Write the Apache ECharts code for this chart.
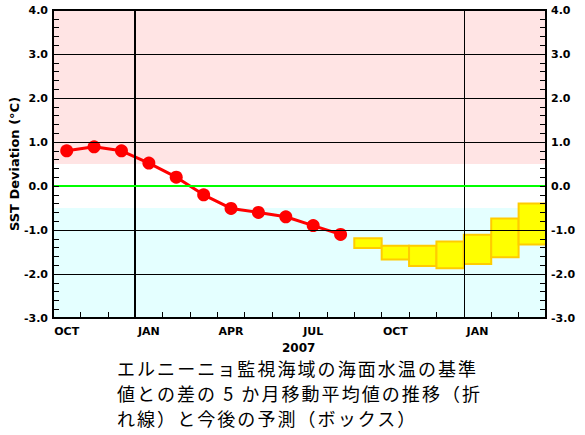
<!DOCTYPE html>
<html>
<head>
<meta charset="utf-8">
<script src="https://cdn.jsdelivr.net/npm/echarts@6/dist/echarts.min.js"></script>
<style>html,body{margin:0;padding:0;background:#fff}#c{width:585px;height:435px}</style>
</head>
<body>
<div id="c"></div>
<script>
var months = ['OCT','NOV','DEC','JAN','FEB','MAR','APR','MAY','JUN','JUL','AUG','SEP','OCT','NOV','DEC','JAN','FEB','MAR'];
var observed = [0.80, 0.89, 0.80, 0.52, 0.20, -0.20, -0.51, -0.60, -0.70, -0.90, -1.10];
var forecastIdx = [11, 12, 13, 14, 15, 16, 17];
var forecastHigh = [-1.19, -1.36, -1.36, -1.26, -1.11, -0.74, -0.40];
var forecastLow = [-1.41, -1.67, -1.82, -1.87, -1.77, -1.62, -1.33];
var yTicks = [-3, -2, -1, 0, 1, 2, 3, 4];
var yearLabel = '2007';
var caption = ['エルニーニョ監視海域の海面水温の基準', '値との差の 5 か月移動平均値の推移（折', 'れ線）と今後の予測（ボックス）'];

var boxData = forecastIdx.map(function (m, i) { return [m, forecastHigh[i], forecastLow[i]]; });
var gridLines = yTicks.slice(1, -1).filter(function (v) { return v !== 0; }).map(function (v) {
  return { yAxis: v, lineStyle: { color: '#000', width: 1, type: 'solid' } };
});

var chart = echarts.init(document.getElementById('c'), null, { renderer: 'svg' });
var FONT = 'DejaVu Sans, Liberation Sans, Arial, sans-serif';
function yAxisCfg(pos) {
  return {
    type: 'value', position: pos, min: yTicks[0], max: yTicks[yTicks.length - 1], interval: 1, z: 10,
    axisLine: { show: true, onZero: false, lineStyle: { color: '#000', width: 2 } },
    axisTick: { show: true, inside: true, length: 6, lineStyle: { color: '#000' } },
    minorTick: { show: true, splitNumber: 5, length: 6, lineStyle: { color: '#000' } },
    axisLabel: { formatter: function (v) { return v.toFixed(1); }, margin: 5, color: '#000', fontWeight: 'bold', fontSize: 11, fontFamily: FONT },
    splitLine: { show: false }
  };
}
var yl = yAxisCfg('left');
yl.name = 'SST Deviation (°C)';
yl.nameLocation = 'middle';
yl.nameGap = 32;
yl.nameMoveOverlap = false;
yl.nameTextStyle = { color: '#000', fontWeight: 'bold', fontSize: 13, fontFamily: FONT };
var yr = yAxisCfg('right');

var option = {
  animation: false,
  grid: {
    left: 53, right: 39, top: 10, bottom: 117, containLabel: false, outerBoundsMode: 'none',
    show: true, borderColor: '#000', borderWidth: 2, backgroundColor: 'transparent', z: 10
  },
  xAxis: [
    {
      type: 'category', data: months, boundaryGap: true, z: 10, position: 'bottom',
      axisLine: { show: true, onZero: false, lineStyle: { color: '#000', width: 2 } },
      axisTick: { show: true, inside: true, length: 6, interval: 0, lineStyle: { color: '#000' } },
      axisLabel: { interval: 2, margin: 8, color: '#000', fontWeight: 'bold', fontSize: 11, fontFamily: FONT },
      splitLine: { show: false }
    },
    { type: 'value', min: 0, max: months.length, show: false, axisLine: { onZero: false } }
  ],
  yAxis: [yl, yr],
  series: [
    {
      type: 'line', xAxisIndex: 1, yAxisIndex: 0, data: [], silent: true, z: 1,
      markArea: {
        silent: true,
        itemStyle: { opacity: 1 },
        data: [
          [{ yAxis: 0.5, itemStyle: { color: '#FFE4E4' } }, { yAxis: 4 }],
          [{ yAxis: -3, itemStyle: { color: '#E4FFFF' } }, { yAxis: -0.5 }]
        ]
      }
    },
    {
      type: 'custom', xAxisIndex: 0, yAxisIndex: 0, z: 2,
      data: boxData,
      renderItem: function (params, api) {
        var top = api.coord([api.value(0), api.value(1)]);
        var bot = api.coord([api.value(0), api.value(2)]);
        var w = api.size([1, 0])[0];
        return {
          type: 'rect',
          shape: { x: top[0] - w / 2, y: top[1], width: w, height: bot[1] - top[1] },
          style: { fill: '#FFFF00', stroke: '#FFCC00', lineWidth: 2 }
        };
      }
    },
    {
      type: 'line', xAxisIndex: 1, yAxisIndex: 0, data: [], silent: true, z: 3,
      markLine: {
        silent: true, symbol: 'none', label: { show: false },
        data: gridLines.concat([
          { xAxis: 3, lineStyle: { color: '#000', width: 2, type: 'solid' } },
          { xAxis: 15, lineStyle: { color: '#000', width: 1, type: 'solid' } },
          { yAxis: 0, lineStyle: { color: '#00FF00', width: 2, type: 'solid' } }
        ])
      }
    },
    {
      type: 'line', xAxisIndex: 0, yAxisIndex: 0, z: 4,
      data: observed,
      symbol: 'circle', symbolSize: 13,
      lineStyle: { color: '#FF0000', width: 3 },
      itemStyle: { color: '#FF0000' }
    }
  ],
  graphic: [
    { type: 'text', left: 282, top: 342, style: { text: yearLabel, fill: '#000', font: 'bold 12px "DejaVu Sans", Arial, sans-serif' } },
    { type: 'text', left: 117, top: 359, style: { text: caption[0], fill: '#000', font: '18px "Noto Sans CJK JP", sans-serif' } },
    { type: 'text', left: 117, top: 384, style: { text: caption[1], fill: '#000', font: '18px "Noto Sans CJK JP", sans-serif' } },
    { type: 'text', left: 117, top: 409, style: { text: caption[2], fill: '#000', font: '18px "Noto Sans CJK JP", sans-serif' } }
  ]
};
chart.setOption(option);

// widen the caption's character pitch to match the reference's full-width font
(function () {
  var texts = Array.prototype.slice.call(document.querySelectorAll('#c text'));
  var caps = texts.filter(function (t) { return caption.indexOf(t.textContent) >= 0; });
  var first = caps.filter(function (t) { return t.textContent === caption[0]; })[0];
  if (!first || !first.getComputedTextLength) return;
  var L = first.getComputedTextLength();
  var n = caption[0].length;
  var s = (359 - L) / (n - 1);
  if (s > 0 && s < 6) caps.forEach(function (t) { t.setAttribute('letter-spacing', s.toFixed(2)); });
})();
</script>
</body>
</html>
